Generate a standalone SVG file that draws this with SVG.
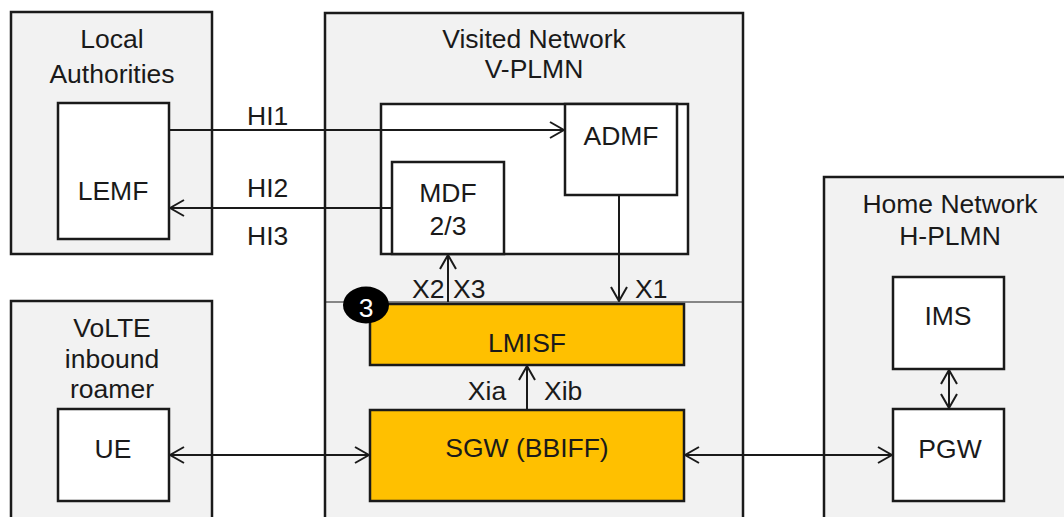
<svg xmlns="http://www.w3.org/2000/svg" width="1064" height="517" viewBox="0 0 1064 517">
<style>
.area{fill:#f2f2f2;stroke:#1a1a1a;stroke-width:2.5}
.box{fill:#ffffff;stroke:#1a1a1a;stroke-width:2.5}
.gold{fill:#ffc000;stroke:#1a1a1a;stroke-width:2.5}
text{font-family:"Liberation Sans",Arial,sans-serif;font-size:26.5px;fill:#1a1a1a}
.c{text-anchor:middle}
.ln{stroke:#1a1a1a;stroke-width:2;fill:none}
</style>
<defs>
<marker id="arr" viewBox="0 0 16 18" refX="15" refY="9" markerWidth="16" markerHeight="18" markerUnits="userSpaceOnUse" orient="auto-start-reverse">
<path d="M1,1 L15,9 L1,17" fill="none" stroke="#1a1a1a" stroke-width="2"/>
</marker>
</defs>
<rect width="1064" height="517" fill="#ffffff"/>
<g id="local-authorities">
<rect class="area" x="11" y="12" width="201" height="242"/>
<text class="c" x="112" y="48">Local</text>
<text class="c" x="112" y="83">Authorities</text>
</g>
<g id="lemf">
<rect class="box" x="58" y="103" width="111" height="136"/>
<text class="c" x="113" y="200">LEMF</text>
</g>
<g id="visited-network">
<rect class="area" x="325" y="13" width="418" height="510"/>
<text class="c" x="534" y="48">Visited Network</text>
<text class="c" x="534" y="78">V-PLMN</text>
<line x1="325" y1="302" x2="743" y2="302" stroke="#1a1a1a" stroke-width="1.2"/>
</g>
<g id="li-domain">
<rect class="box" x="381" y="104" width="307" height="150"/>
</g>
<g id="admf">
<rect class="box" x="565" y="104" width="112" height="91"/>
<text class="c" x="621" y="145">ADMF</text>
</g>
<g id="mdf">
<rect class="box" x="392" y="162" width="112" height="92"/>
<text class="c" x="448" y="202">MDF</text>
<text class="c" x="448" y="235">2/3</text>
</g>
<g id="lmisf">
<rect class="gold" x="370" y="304" width="314" height="61"/>
<text class="c" x="527" y="352">LMISF</text>
</g>
<g id="badge-3">
<ellipse cx="366" cy="305" rx="23" ry="18.5" fill="#000000"/>
<text class="c" x="366" y="317" style="fill:#ffffff">3</text>
</g>
<g id="sgw">
<rect class="gold" x="370" y="410" width="314" height="91"/>
<text class="c" x="527" y="457">SGW (BBIFF)</text>
</g>
<g id="volte-roamer">
<rect class="area" x="11" y="301" width="201" height="222"/>
<text class="c" x="112" y="337">VoLTE</text>
<text class="c" x="112" y="368">inbound</text>
<text class="c" x="112" y="398">roamer</text>
</g>
<g id="ue">
<rect class="box" x="58" y="409" width="111" height="92"/>
<text class="c" x="113" y="458">UE</text>
</g>
<g id="home-network">
<rect class="area" x="824" y="177" width="250" height="346"/>
<text class="c" x="950" y="213">Home Network</text>
<text class="c" x="950" y="245">H-PLMN</text>
</g>
<g id="ims">
<rect class="box" x="893" y="277" width="111" height="92"/>
<text class="c" x="948" y="325">IMS</text>
</g>
<g id="pgw">
<rect class="box" x="893" y="409" width="111" height="92"/>
<text class="c" x="950" y="458">PGW</text>
</g>
<g id="connectors">
<line class="ln" x1="169" y1="130" x2="564" y2="130" marker-end="url(#arr)"/>
<text x="247" y="125">HI1</text>
<line class="ln" x1="392" y1="208" x2="170" y2="208" marker-end="url(#arr)"/>
<text x="247" y="197">HI2</text>
<text x="247" y="245">HI3</text>
<line class="ln" x1="448" y1="302" x2="448" y2="255" marker-end="url(#arr)"/>
<text x="412" y="298">X2</text>
<text x="453" y="298">X3</text>
<line class="ln" x1="619" y1="195" x2="619" y2="301" marker-end="url(#arr)"/>
<text x="635" y="298">X1</text>
<line class="ln" x1="527" y1="410" x2="527" y2="366" marker-end="url(#arr)"/>
<text class="c" x="487" y="400">Xia</text>
<text x="544" y="400">Xib</text>
<line class="ln" x1="170" y1="455" x2="369" y2="455" marker-start="url(#arr)" marker-end="url(#arr)"/>
<line class="ln" x1="685" y1="455" x2="892" y2="455" marker-start="url(#arr)" marker-end="url(#arr)"/>
<line class="ln" x1="949" y1="370" x2="949" y2="408" marker-start="url(#arr)" marker-end="url(#arr)"/>
</g>
</svg>
